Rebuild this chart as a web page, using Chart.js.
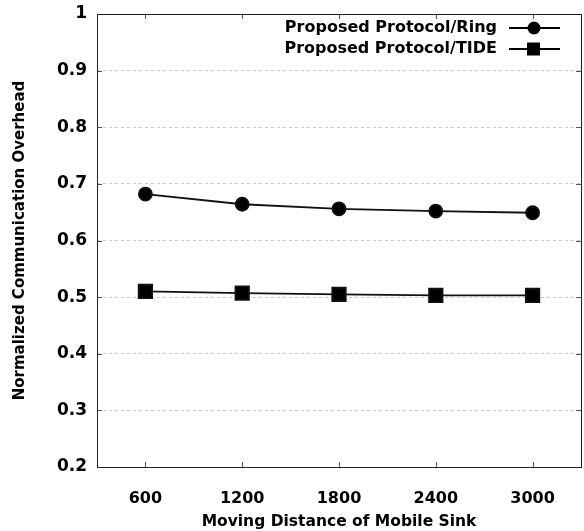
<!DOCTYPE html>
<html>
<head>
<meta charset="utf-8">
<script src="https://cdn.jsdelivr.net/npm/chart.js@4.4.0/dist/chart.umd.min.js"></script>
<style>
  html, body { margin: 0; padding: 0; background: #fff; overflow: hidden; }
  #wrap { width: 584px; height: 531px; position: relative; }
  canvas { display: block; }
</style>
</head>
<body>
<div id="wrap"><canvas id="graph"></canvas></div>
<script>
// values
const distances = [600, 1200, 1800, 2400, 3000];
const ringValues = [0.682, 0.664, 0.656, 0.652, 0.649];
const tideValues = [0.510, 0.507, 0.505, 0.503, 0.503];
const yTicks = [0.2, 0.3, 0.4, 0.5, 0.6, 0.7, 0.8, 0.9, 1];

const FONT = '"DejaVu Sans", Verdana, sans-serif';

// gnuplot-like frame, inward ticks and the legend on the right
const framePlugin = {
    id: 'frame',
    afterDatasetsDraw(chart) {
        const { ctx, chartArea: a, scales } = chart;
        ctx.save();
        ctx.strokeStyle = '#555';
        ctx.lineWidth = 1;
        // ticks, inward on all four sides
        distances.forEach(v => {
            let x = Math.round(scales.x.getPixelForValue(v)) + 0.5;
            ctx.beginPath();
            ctx.moveTo(x, a.bottom); ctx.lineTo(x, a.bottom - 5);
            ctx.moveTo(x, a.top); ctx.lineTo(x, a.top + 5);
            ctx.stroke();
        });
        yTicks.forEach(v => {
            let y = Math.round(scales.y.getPixelForValue(v)) + 0.5;
            ctx.beginPath();
            ctx.moveTo(a.left, y); ctx.lineTo(a.left + 5, y);
            ctx.moveTo(a.right, y); ctx.lineTo(a.right - 5, y);
            ctx.stroke();
        });
        ctx.strokeStyle = '#222';
        ctx.strokeRect(Math.round(a.left) + 0.5, Math.round(a.top) + 0.5,
            Math.round(a.right - a.left), Math.round(a.bottom - a.top));

        // legend
        ctx.font = 'bold 16px ' + FONT;
        ctx.textAlign = 'right';
        ctx.textBaseline = 'middle';
        chart.data.datasets.forEach((ds, i) => {
            let y = 28 + i * 21;
            ctx.fillStyle = '#000';
            ctx.fillText(ds.label, 497, y);
            ctx.strokeStyle = '#000';
            ctx.lineWidth = 1.8;
            ctx.beginPath();
            ctx.moveTo(509, y); ctx.lineTo(560, y);
            ctx.stroke();
            if (ds.pointStyle === 'rect') {
                ctx.fillRect(527, y - 6.5, 13, 13);
            } else {
                ctx.beginPath();
                ctx.arc(534, y, 6.5, 0, Math.PI * 2);
                ctx.fill();
            }
        });
        ctx.restore();
    }
};

function noPad(s) {
    s.paddingTop = 0;
    s.paddingBottom = 0;
    s.paddingLeft = 0;
    s.paddingRight = 0;
}

new Chart(document.getElementById('graph'), {
    type: 'line',
    data: {
        datasets: [
            {
                label: 'Proposed Protocol/Ring',
                data: distances.map((d, i) => ({ x: d, y: ringValues[i] })),
                borderColor: '#111',
                backgroundColor: '#000',
                borderWidth: 1.8,
                pointStyle: 'circle',
                pointRadius: 6.5,
                pointHoverRadius: 6.5,
                tension: 0
            },
            {
                label: 'Proposed Protocol/TIDE',
                data: distances.map((d, i) => ({ x: d, y: tideValues[i] })),
                borderColor: '#111',
                backgroundColor: '#000',
                borderWidth: 1.8,
                pointStyle: 'rect',
                pointRadius: 9.5,
                pointHoverRadius: 9.5,
                tension: 0
            }
        ]
    },
    plugins: [framePlugin],
    options: {
        responsive: true,
        maintainAspectRatio: false,
        animation: false,
        layout: { autoPadding: false, padding: { top: 14, right: 3, left: 11, bottom: 0 } },
        plugins: {
            legend: { display: false },
            tooltip: { enabled: false }
        },
        scales: {
            x: {
                type: 'linear',
                min: 300,
                max: 3300,
                afterBuildTicks: s => { s.ticks = distances.map(v => ({ value: v })); },
                afterFit: s => { s.height = 64; noPad(s); },
                grid: { display: false, drawTicks: false },
                border: { display: false },
                ticks: {
                    color: '#000',
                    padding: 22,
                    callback: v => String(v),
                    font: { family: FONT, size: 16, weight: 'bold' }
                },
                title: {
                    display: true,
                    text: 'Moving Distance of Mobile Sink',
                    color: '#000',
                    padding: { top: 4, bottom: 0 },
                    font: { family: FONT, size: 15.5, weight: 'bold' }
                }
            },
            y: {
                min: 0.2,
                max: 1,
                afterBuildTicks: s => { s.ticks = yTicks.map(v => ({ value: v })); },
                afterFit: s => { s.width = 86; noPad(s); },
                grid: {
                    drawTicks: false,
                    color: c => (c.tick.value > 0.2 && c.tick.value < 1) ? '#c8c8c8' : 'rgba(0,0,0,0)',
                    lineWidth: 1
                },
                border: { display: false, dash: [3, 3] },
                ticks: {
                    color: '#000',
                    padding: 10,
                    callback: v => String(v),
                    font: { family: FONT, size: 17, weight: 'bold' }
                },
                title: {
                    display: true,
                    text: 'Normalized Communication Overhead',
                    color: '#000',
                    padding: { top: 0, bottom: 4 },
                    font: { family: FONT, size: 15, weight: 'bold' }
                }
            }
        }
    }
});
</script>
</body>
</html>
